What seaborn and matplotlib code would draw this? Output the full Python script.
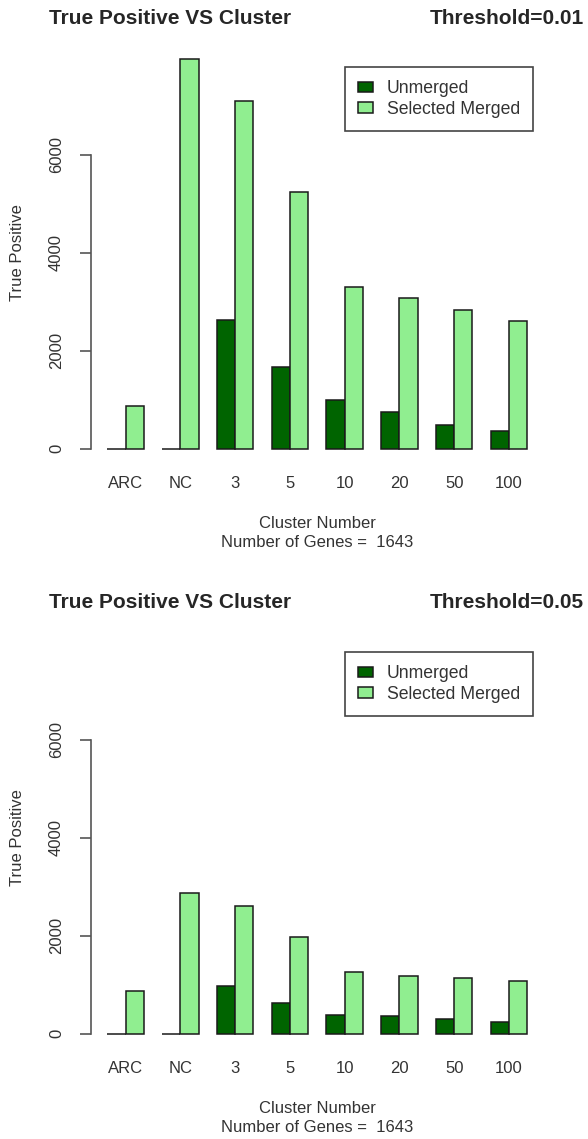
import pandas as pd
import matplotlib.pyplot as plt
import seaborn as sns
import numpy as np

# Dados
clusters = ['ARC', 'NC', '3', '5', '10', '20', '50', '100']
series_names = ['Unmerged', 'Selected Merged']
unmerged_001 = [0, 0, 2635, 1670, 990, 750, 480, 362]
merged_001 = [868, 7960, 7096, 5245, 3294, 3082, 2833, 2600]
unmerged_005 = [0, 0, 983, 636, 390, 362, 309, 240]
merged_005 = [867, 2865, 2605, 1965, 1262, 1188, 1127, 1078]
thresholds = ['0.01', '0.05']
n_genes = 1643
y_ticks = [0, 2000, 4000, 6000]

sns.set_style("white")
plt.rcParams['font.family'] = ['Liberation Sans', 'DejaVu Sans']

W, H = 588, 1139
fig = plt.figure(figsize=(W / 100, H / 100), dpi=100)


def px_rect(left, top, right, bottom):
    return [left / W, 1 - bottom / H, (right - left) / W, (bottom - top) / H]


palette = {'Unmerged': '#006400', 'Selected Merged': '#90EE90'}
panels = [
    (thresholds[0], unmerged_001, merged_001, 0),
    (thresholds[1], unmerged_005, merged_005, 585),
]

for thr, unm, mer, dy in panels:
    df = pd.DataFrame({
        'cluster': clusters * 2,
        'type': [series_names[0]] * len(clusters) + [series_names[1]] * len(clusters),
        'value': list(unm) + list(mer),
    })
    ax = fig.add_axes(px_rect(90.5, 41 + dy, 544, 464.4 + dy))
    sns.barplot(data=df, x='cluster', y='value', hue='type', order=clusters,
                hue_order=series_names, palette=palette, saturation=1,
                width=2 / 3, edgecolor='#1a1a1a', linewidth=1.1, errorbar=None, ax=ax)
    ax.set_xlim(-0.64, 7.64)
    ax.set_ylim(-320, 8320)

    for s in ['top', 'right', 'bottom']:
        ax.spines[s].set_visible(False)
    ax.spines['left'].set_bounds(0, 6000)
    ax.spines['left'].set_color('#555555')
    ax.spines['left'].set_linewidth(1.2)
    ax.set_yticks(y_ticks)
    ax.set_yticklabels([str(t) for t in y_ticks], rotation=90, va='center', fontsize=12)
    ax.tick_params(axis='y', left=True, length=8, width=1.2, color='#555555', pad=11,
                   labelcolor='#333333')
    ax.tick_params(axis='x', bottom=False, length=0, pad=8, labelsize=12, labelcolor='#333333')
    ax.set_ylabel('True Positive', fontsize=12, labelpad=17, color='#333333')
    ax.set_xlabel(f'Cluster Number\nNumber of Genes =  {n_genes}', fontsize=12,
                  labelpad=18, color='#333333', linespacing=1.4)

    handles, labels = ax.get_legend_handles_labels()
    if ax.get_legend() is not None:
        ax.get_legend().remove()
    leg = ax.legend(handles, labels, loc='upper right',
                    bbox_to_anchor=(533 / W, 1 - (67 + dy) / H),
                    bbox_transform=fig.transFigure, borderaxespad=0,
                    fontsize=12.7, frameon=True, fancybox=False, framealpha=1,
                    edgecolor='#444444', borderpad=0.75, handlelength=0.85,
                    handleheight=0.55, handletextpad=0.75, labelspacing=0.2)
    leg.get_frame().set_linewidth(1.2)
    for t in leg.get_texts():
        t.set_color('#333333')

    fig.text(49 / W, 1 - (18 + dy) / H, 'True Positive VS Cluster', fontsize=15,
             fontweight='bold', ha='left', va='center')
    fig.text(584 / W, 1 - (18 + dy) / H, f'Threshold={thr}', fontsize=15,
             fontweight='bold', ha='right', va='center')

plt.savefig('out.png', dpi=100)
